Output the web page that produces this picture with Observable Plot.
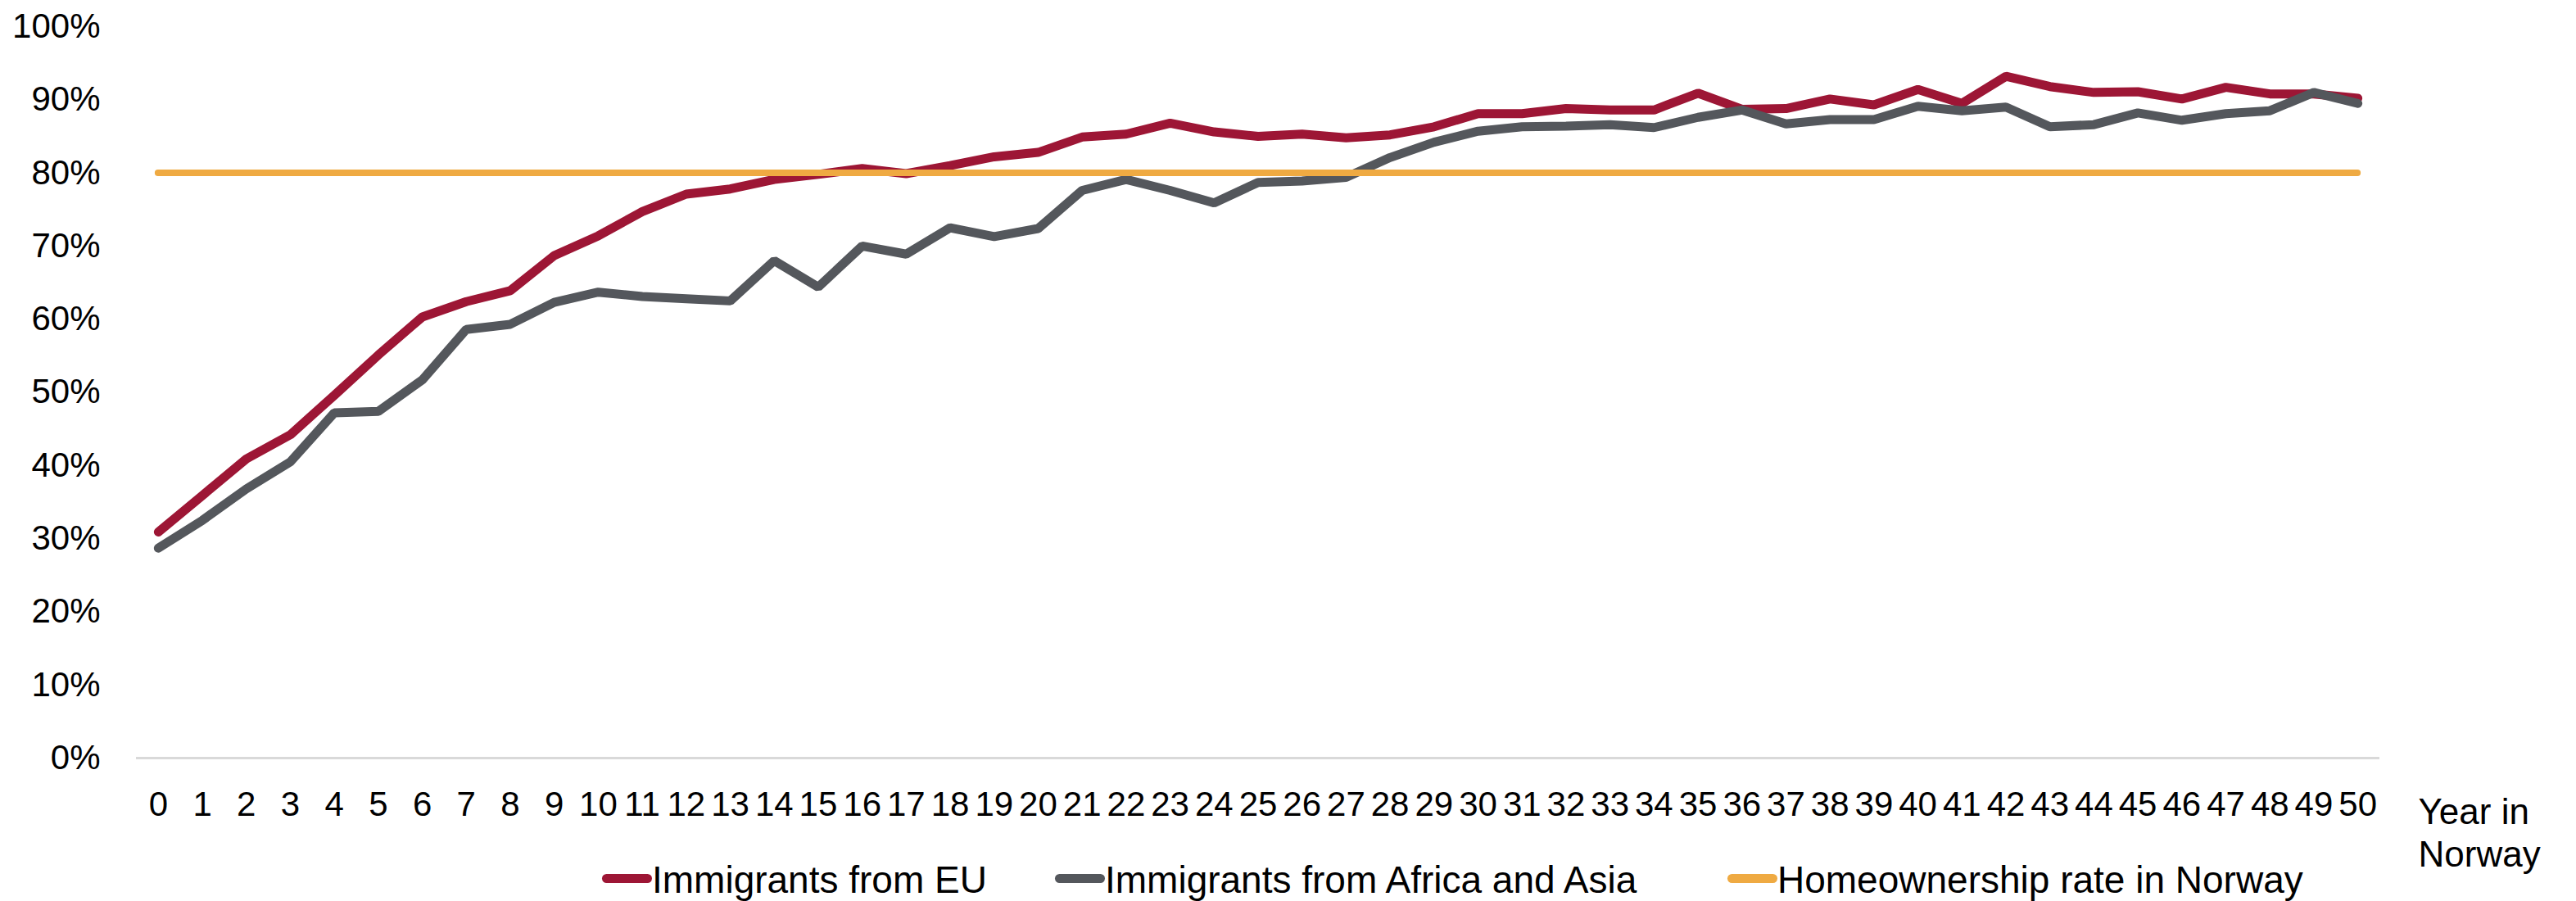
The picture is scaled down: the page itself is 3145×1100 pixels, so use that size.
<!DOCTYPE html>
<html>
<head>
<meta charset="utf-8">
<script src="https://cdn.jsdelivr.net/npm/d3@7"></script>
<script src="https://cdn.jsdelivr.net/npm/@observablehq/plot@0.6"></script>
<style>
  html, body { margin: 0; padding: 0; background: #fff; }
  body { width: 3145px; height: 1100px; overflow: hidden; font-family: "Liberation Sans", Arial, sans-serif; }
  #chart svg { overflow: visible; display: block; }
  .legend { display: flex; align-items: center; padding-left: 735px; height: 44px; margin-top: -4px; font-size: 46px; line-height: 44px; color: #000; white-space: nowrap; }
  .legend .item { display: flex; align-items: center; }
  .legend .sw { width: 61px; height: 11px; border-radius: 5.5px; margin-top: -4px; flex: none; }
</style>
</head>
<body>
<div id="chart"></div>
<div class="legend" id="legend"></div>
<script>
const years = [0,1,2,3,4,5,6,7,8,9,10,11,12,13,14,15,16,17,18,19,20,21,22,23,24,25,26,27,28,29,30,31,32,33,34,35,36,37,38,39,40,41,42,43,44,45,46,47,48,49,50];
const euValues = [30.9,35.9,40.9,44.2,49.6,55.1,60.3,62.4,63.9,68.7,71.4,74.7,77.1,77.8,79.1,79.8,80.6,79.9,81.0,82.2,82.8,84.9,85.3,86.8,85.6,85.0,85.3,84.8,85.2,86.3,88.1,88.1,88.8,88.6,88.6,90.9,88.7,88.8,90.1,89.3,91.4,89.5,93.2,91.8,91.0,91.1,90.1,91.7,90.8,90.8,90.2];
const afAsValues = [28.7,32.5,36.8,40.5,47.2,47.4,51.7,58.6,59.3,62.3,63.7,63.1,62.8,62.5,68.0,64.4,70.0,68.9,72.5,71.3,72.4,77.6,79.1,77.6,75.9,78.7,78.9,79.4,82.1,84.2,85.7,86.3,86.4,86.6,86.2,87.6,88.6,86.7,87.3,87.3,89.1,88.5,89.0,86.3,86.6,88.2,87.2,88.1,88.5,91.0,89.5];
const norwayRate = 80;
const yTicks = [0,10,20,30,40,50,60,70,80,90,100];
const seriesNames = ["Immigrants from EU", "Immigrants from Africa and Asia", "Homeownership rate in Norway"];
const seriesColors = ["#9d1635", "#54575c", "#efaa42"];
const legendItemWidths = [553, 821, null];
const xLabel = "Year in\nNorway";

const eu = years.map((y, i) => ({year: y, value: euValues[i]}));
const afas = years.map((y, i) => ({year: y, value: afAsValues[i]}));

const chart = Plot.plot({
  width: 3145,
  height: 1056,
  marginTop: 32,
  marginBottom: 131,
  marginLeft: 166,
  marginRight: 240,
  style: {fontFamily: "'Liberation Sans', Arial, sans-serif", fontSize: "42px", color: "#000", background: "transparent", overflow: "visible"},
  x: {type: "point", domain: years, padding: 0.5},
  y: {domain: [0, 100]},
  marks: [
    Plot.axisY({ticks: yTicks, tickSize: 0, tickPadding: 44, tickFormat: d => d + "%", label: null, fontSize: 42}),
    Plot.axisX({ticks: years, tickSize: 0, tickPadding: 41, label: null, fontSize: 42}),
    Plot.ruleY([0], {stroke: "#d9d9d9", strokeWidth: 3}),
    Plot.lineY(eu, {x: "year", y: "value", stroke: seriesColors[0], strokeWidth: 11, strokeLinecap: "round", strokeLinejoin: "miter"}),
    Plot.lineY(afas, {x: "year", y: "value", stroke: seriesColors[1], strokeWidth: 11, strokeLinecap: "round", strokeLinejoin: "miter"}),
    Plot.ruleY([norwayRate], {x1: years[0], x2: years[years.length - 1], stroke: seriesColors[2], strokeWidth: 8, strokeLinecap: "round"}),
    Plot.text([xLabel], {text: d => d, frameAnchor: "bottom-right", dx: 47, dy: 44, textAnchor: "start", lineAnchor: "top", lineHeight: 1.18, fontSize: 44, fill: "#000"})
  ]
});
document.getElementById("chart").append(chart);

const legend = document.getElementById("legend");
seriesNames.forEach((name, i) => {
  const item = document.createElement("div");
  item.className = "item";
  if (legendItemWidths[i]) item.style.width = legendItemWidths[i] + "px";
  const sw = document.createElement("span");
  sw.className = "sw";
  sw.style.background = seriesColors[i];
  const t = document.createElement("span");
  t.textContent = name;
  item.append(sw, t);
  legend.append(item);
});
</script>
</body>
</html>
